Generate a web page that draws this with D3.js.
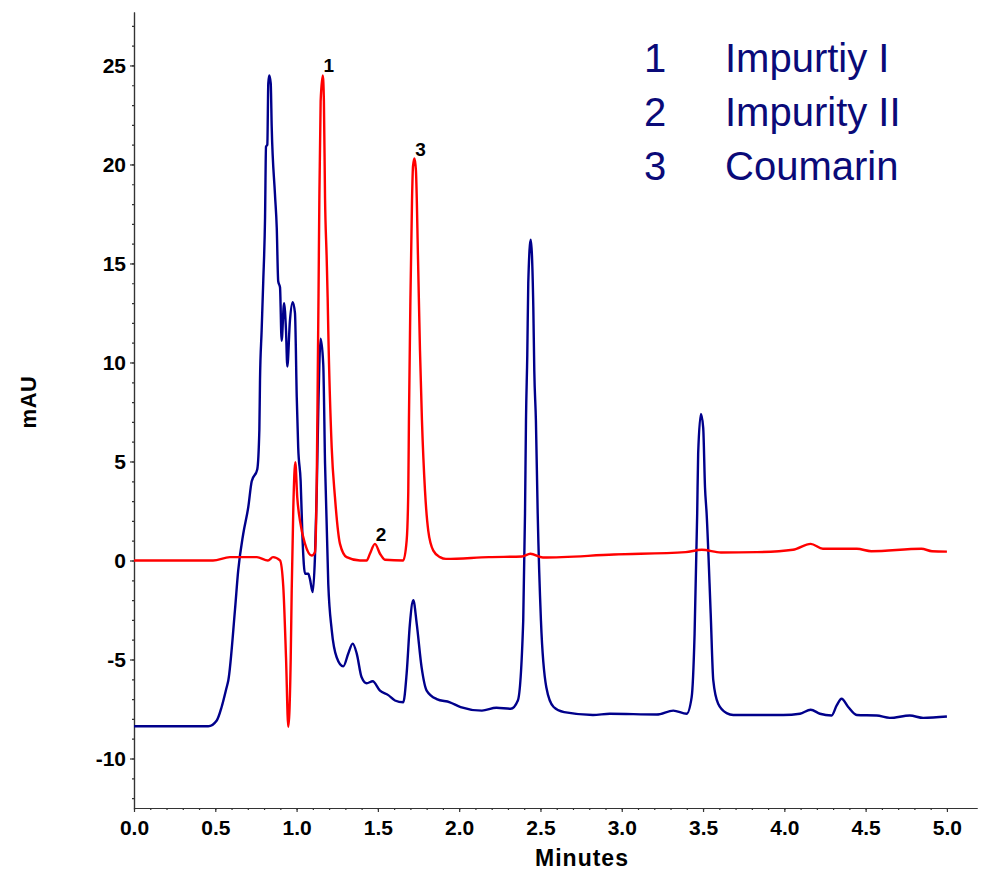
<!DOCTYPE html>
<html>
<head>
<meta charset="utf-8">
<script src="https://cdn.jsdelivr.net/npm/d3@7"></script>
<style>
  body { margin: 0; background: #fff; }
  svg { font-family: Arial, "Liberation Sans", sans-serif; }
</style>
</head>
<body>
<svg id="chart" width="982" height="870"></svg>
<script>
// red trace: [minutes, mAU]
let sampleTrace = [
  [0.00, 0.0], [0.283, 0.0], [0.486, 0.0], [0.590, 0.17], [0.756, 0.17], [0.824, 0.0],
  [0.855, 0.17], [0.898, 0.0], [0.918, -1.3], [0.935, -4.9], [0.949, -8.4], [0.964, -4.9],
  [0.970, -1.5], [0.980, 2.7], [0.992, 4.97], [1.004, 3.2], [1.021, 2.0], [1.052, 0.84],
  [1.093, 0.25], [1.113, 0.42], [1.124, 4.0], [1.130, 9.1], [1.135, 13.5], [1.140, 18.2],
  [1.148, 23.2], [1.161, 24.5], [1.168, 23.2], [1.175, 18.3], [1.185, 15.3], [1.191, 13.3],
  [1.195, 11.6], [1.216, 5.7], [1.236, 3.2], [1.267, 0.84], [1.308, 0.17], [1.390, 0.0],
  [1.431, 0.0], [1.451, 0.34], [1.482, 0.84], [1.513, 0.34], [1.544, 0.04], [1.656, 0.0],
  [1.677, 1.0], [1.687, 3.5], [1.691, 7.1], [1.700, 13.1], [1.710, 18.2], [1.716, 19.9],
  [1.725, 20.3], [1.734, 19.7], [1.747, 15.2], [1.759, 10.6], [1.771, 7.1], [1.790, 3.5],
  [1.810, 1.5], [1.841, 0.5], [1.882, 0.17], [1.919, 0.08], [2.183, 0.17], [2.386, 0.2],
  [2.438, 0.34], [2.515, 0.15], [2.952, 0.3], [3.393, 0.42], [3.492, 0.54], [3.610, 0.4],
  [3.831, 0.42], [4.053, 0.54], [4.162, 0.84], [4.237, 0.59], [4.446, 0.59], [4.535, 0.47],
  [4.843, 0.59], [4.908, 0.47], [5.000, 0.45]
]

// blue trace: [minutes, mAU]
let blankTrace = [
  [0.000, -8.37], [0.457, -8.37], [0.509, -8.08], [0.539, -7.4], [0.570, -6.4], [0.580, -6.06],
  [0.621, -2.5], [0.641, -0.5], [0.672, 1.35], [0.703, 2.7], [0.724, 4.0], [0.758, 4.6],
  [0.771, 6.6], [0.775, 9.1], [0.785, 11.6], [0.795, 14.1], [0.806, 17.3], [0.812, 20.9],
  [0.820, 21.0], [0.826, 24.1], [0.832, 24.5], [0.841, 24.1], [0.847, 21.9], [0.867, 18.5],
  [0.878, 16.8], [0.887, 14.1], [0.898, 13.8], [0.908, 11.1], [0.923, 13.0], [0.935, 11.6],
  [0.943, 9.8], [0.959, 12.1], [0.976, 13.05], [0.990, 12.5], [1.001, 8.25], [1.010, 5.7],
  [1.025, 4.0], [1.037, 1.0], [1.052, -0.67], [1.072, -0.67], [1.082, -0.93], [1.099, -1.6],
  [1.113, 0.17], [1.124, 3.5], [1.133, 7.4], [1.148, 11.2], [1.164, 9.9], [1.175, 4.9],
  [1.195, -1.2], [1.216, -3.5], [1.247, -4.9], [1.287, -5.35], [1.318, -4.7], [1.345, -4.2],
  [1.370, -4.7], [1.400, -5.9], [1.431, -6.2], [1.468, -6.1], [1.513, -6.57], [1.564, -6.8],
  [1.605, -7.07], [1.656, -7.16], [1.677, -5.7], [1.697, -3.2], [1.718, -2.0], [1.739, -3.2],
  [1.769, -5.4], [1.800, -6.57], [1.862, -7.0], [1.943, -7.16], [2.009, -7.4], [2.140, -7.58],
  [2.229, -7.44], [2.317, -7.49], [2.361, -7.07], [2.394, -3.03], [2.405, 2.4], [2.411, 7.1],
  [2.419, 10.4], [2.425, 14.0], [2.440, 16.2], [2.456, 12.8], [2.462, 9.6], [2.472, 7.07],
  [2.483, 2.37], [2.503, -3.03], [2.536, -6.4], [2.581, -7.4], [2.646, -7.66], [2.823, -7.8],
  [2.927, -7.74], [3.215, -7.78], [3.317, -7.58], [3.399, -7.74], [3.430, -6.9], [3.448, -3.7],
  [3.464, 2.37], [3.470, 5.4], [3.487, 7.4], [3.501, 6.7], [3.512, 3.7], [3.522, 2.37],
  [3.547, -2.67], [3.563, -6.06], [3.593, -7.24], [3.645, -7.71], [3.686, -7.8], [3.993, -7.8],
  [4.096, -7.74], [4.162, -7.54], [4.219, -7.74], [4.291, -7.83], [4.322, -7.32], [4.352, -6.98],
  [4.393, -7.4], [4.445, -7.8], [4.568, -7.83], [4.649, -7.95], [4.772, -7.83], [4.854, -7.95],
  [5.000, -7.88]
]

let peakNumbers = ["1", "2", "3"]
let peakNames = ["Impurtiy I", "Impurity II", "Coumarin"]
let peakTimes = [1.161, 1.482, 1.725]
let peakHeights = [24.5, 0.84, 20.3]

let xTicks = d3.range(0, 5.01, 0.5)
let xMinorTicks = d3.range(0, 51).map(i => i / 10)
let yTicks = [-10, -5, 0, 5, 10, 15, 20, 25]
let yMinorTicks = d3.range(-12, 28)

let svg = d3.select("#chart")
let x = d3.scaleLinear().domain([0, 5.185]).range([134, 977])
let y = d3.scaleLinear().domain([-12.5, 27.7]).range([808, 12])

let axisColor = "#333"

// minor ticks first, major on top
svg.append("g")
  .attr("transform", "translate(0,808)")
  .call(d3.axisBottom(x).tickValues(xMinorTicks).tickSize(2).tickFormat("").tickSizeOuter(0))
svg.append("g")
  .attr("transform", "translate(0,808)")
  .call(d3.axisBottom(x).tickValues(xTicks).tickSize(4).tickPadding(8)
    .tickFormat(d3.format(".1f")).tickSizeOuter(0))
svg.append("g")
  .attr("transform", "translate(134,0)")
  .call(d3.axisLeft(y).tickValues(yMinorTicks).tickSize(2).tickFormat("").tickSizeOuter(0))
svg.append("g")
  .attr("transform", "translate(134,0)")
  .call(d3.axisLeft(y).tickValues(yTicks).tickSize(4).tickPadding(4).tickSizeOuter(0)
    .tickFormat(d => String(d)))

svg.selectAll(".domain, .tick line").attr("stroke", axisColor).attr("stroke-width", 1.2)
svg.selectAll(".tick text")
  .attr("fill", "#000")
  .attr("font-size", 21)
  .attr("font-weight", "bold")
  .attr("font-family", "Arial, 'Liberation Sans', sans-serif")

svg.append("text")
  .attr("x", 582).attr("y", 866)
  .attr("text-anchor", "middle")
  .attr("font-size", 23).attr("font-weight", "bold")
  .attr("letter-spacing", 1)
  .text("Minutes")

svg.append("text")
  .attr("transform", "translate(36,402) rotate(-90)")
  .attr("text-anchor", "middle")
  .attr("font-size", 22).attr("font-weight", "bold")
  .attr("letter-spacing", 0.5)
  .text("mAU")

let line = d3.line().x(d => x(d[0])).y(d => y(d[1])).curve(d3.curveMonotoneX)

svg.append("path")
  .datum(blankTrace)
  .attr("d", line)
  .attr("fill", "none")
  .attr("stroke", "#00008b")
  .attr("stroke-width", 2.4)
  .attr("stroke-linejoin", "round")

svg.append("path")
  .datum(sampleTrace)
  .attr("d", line)
  .attr("fill", "none")
  .attr("stroke", "#ff0000")
  .attr("stroke-width", 2.4)
  .attr("stroke-linejoin", "round")

// peak numbers just right of each apex
svg.selectAll(".peak")
  .data(peakNumbers).enter()
  .append("text")
  .attr("class", "peak")
  .attr("x", (d, i) => x(peakTimes[i]) + 6)
  .attr("y", (d, i) => y(peakHeights[i]) - 3)
  .attr("text-anchor", "middle")
  .attr("font-size", 19).attr("font-weight", "bold")
  .text(d => d)

let legend = svg.append("g").attr("fill", "#0a0a78").attr("font-size", 40)
legend.selectAll(".num")
  .data(peakNumbers).enter()
  .append("text")
  .attr("x", 644)
  .attr("y", (d, i) => 72 + i * 54)
  .text(d => d)
legend.selectAll(".name")
  .data(peakNames).enter()
  .append("text")
  .attr("x", 725)
  .attr("y", (d, i) => 72 + i * 54)
  .text(d => d)
</script>
</body>
</html>
